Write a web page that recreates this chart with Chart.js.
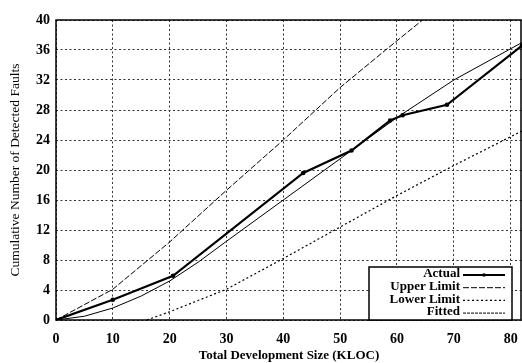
<!DOCTYPE html>
<html>
<head>
<meta charset="utf-8">
<script src="https://cdn.jsdelivr.net/npm/chart.js@4.4.1/dist/chart.umd.min.js"></script>
<style>
    body { margin: 0; background: #fff; overflow: hidden; }
    #wrap { width: 522px; height: 363px; position: relative; }
</style>
</head>
<body>
<div id="wrap"><canvas id="myChart"></canvas></div>
<script>
// data (KLOC, cumulative faults)
var actualX = [0, 10, 20.6, 43.5, 52, 58.8, 61, 68.8, 82];
var actualY = [0, 2.7, 5.9, 19.6, 22.6, 26.6, 27.3, 28.7, 36.6];
var upperX = [0, 10, 20, 30, 40, 50, 58, 64.5];
var upperY = [0, 4.1, 10.4, 17.3, 24, 31, 36, 40];
var lowerX = [16, 20, 30, 40, 50, 60, 70, 82];
var lowerY = [0, 1.1, 4.1, 8.2, 12.4, 16.6, 20.6, 25.2];
var fittedX = [0, 5, 10, 15, 20, 25, 30, 40, 50, 60, 70, 82];
var fittedY = [0, 0.5, 1.6, 3.2, 5.2, 7.7, 10.5, 16, 21.5, 27, 32, 37];
var xTicks = [0, 10, 20, 30, 40, 50, 60, 70, 80];
var yTicks = [0, 4, 8, 12, 16, 20, 24, 28, 32, 36, 40];

function pts(xs, ys) {
    return xs.map(function(x, i) { return { x: x, y: ys[i] }; });
}

var serif = "'Liberation Serif', 'DejaVu Serif', serif";

// frame round the plot area
var framePlugin = {
    id: 'frame',
    afterDatasetsDraw: function(chart) {
        var a = chart.chartArea, c = chart.ctx;
        c.save();
        c.strokeStyle = '#000';
        c.lineWidth = 1.5;
        c.setLineDash([]);
        c.strokeRect(a.left, a.top, Math.min(a.right, chart.width - 1) - a.left, a.bottom - a.top);
        c.restore();
    }
};

// legend box in the lower right, text left of the sample line
var legendBox = {
    id: 'legendBox',
    afterDatasetsDraw: function(chart) {
        var a = chart.chartArea, c = chart.ctx;
        var right = a.right - 10, bottom = a.bottom, w = 143, h = 53;
        var left = right - w, top = bottom - h;
        c.save();
        c.fillStyle = '#fff';
        c.fillRect(left, top, w, h);
        c.strokeStyle = '#000';
        c.lineWidth = 1.5;
        c.strokeRect(left, top, w, h);
        c.font = "bold 13px " + serif;
        c.textAlign = 'right';
        c.textBaseline = 'middle';
        chart.data.datasets.forEach(function(ds, i) {
            var y = top + 7 + i * 12.7;
            c.fillStyle = '#000';
            c.fillText(ds.label, right - 52, y);
            c.strokeStyle = '#000';
            c.lineWidth = ds.borderWidth;
            c.setLineDash(ds.legendDash || ds.borderDash || []);
            c.beginPath();
            c.moveTo(right - 49, y + 1);
            c.lineTo(right - 7, y + 1);
            c.stroke();
            if (ds.pointRadius) {
                c.setLineDash([]);
                c.beginPath();
                c.arc(right - 28, y + 1, 1.8, 0, Math.PI * 2);
                c.fillStyle = '#000';
                c.fill();
            }
        });
        c.restore();
    }
};

var gridOpts = { color: '#333', lineWidth: 1, drawTicks: false };

var myChart = new Chart(document.getElementById('myChart').getContext('2d'), {
    type: 'line',
    data: {
        datasets: [{
            label: 'Actual',
            data: pts(actualX, actualY),
            borderColor: '#000',
            backgroundColor: '#000',
            borderWidth: 2.2,
            pointRadius: 1.2,
            pointStyle: 'circle'
        }, {
            label: 'Upper Limit',
            data: pts(upperX, upperY),
            borderColor: '#000',
            borderWidth: 1,
            borderDash: [6, 2],
            pointRadius: 0
        }, {
            label: 'Lower Limit',
            data: pts(lowerX, lowerY),
            borderColor: '#000',
            borderWidth: 1.2,
            borderDash: [2, 2.5],
            pointRadius: 0
        }, {
            label: 'Fitted',
            data: pts(fittedX, fittedY),
            borderColor: '#000',
            borderWidth: 1,
            legendDash: [3, 1],
            pointRadius: 0
        }]
    },
    options: {
        responsive: true,
        maintainAspectRatio: false,
        animation: false,
        layout: { autoPadding: false, padding: { top: 20, right: 0, left: 0, bottom: 0 } },
        plugins: {
            legend: { display: false },
            tooltip: { enabled: false }
        },
        scales: {
            x: {
                type: 'linear',
                min: 0,
                max: 82,
                grid: gridOpts,
                border: { display: false, dash: [2, 2.5] },
                afterBuildTicks: function(scale) {
                    scale.ticks = xTicks.map(function(v) { return { value: v }; });
                },
                afterFit: function(scale) {
                    scale.height = 43;
                    scale.paddingRight = 0;
                    scale.paddingLeft = 0;
                },
                ticks: {
                    padding: 11,
                    color: '#000',
                    maxRotation: 0,
                    font: { family: serif, size: 14, weight: 'bold' }
                },
                title: {
                    display: true,
                    text: 'Total Development Size (KLOC)',
                    color: '#000',
                    padding: { top: 0, bottom: 0 },
                    font: { family: serif, size: 13, weight: 'bold' }
                }
            },
            y: {
                min: 0,
                max: 40,
                grid: gridOpts,
                border: { display: false, dash: [2, 2.5] },
                afterBuildTicks: function(scale) {
                    scale.ticks = yTicks.map(function(v) { return { value: v }; });
                },
                afterFit: function(scale) { scale.width = 56; },
                ticks: {
                    padding: 6,
                    color: '#000',
                    font: { family: serif, size: 14, weight: 'bold' }
                },
                title: {
                    display: true,
                    text: 'Cumulative Number of Detected Faults',
                    color: '#000',
                    padding: { top: 7, bottom: 0 },
                    font: { family: serif, size: 13.5, weight: 'normal' }
                }
            }
        }
    },
    plugins: [framePlugin, legendBox]
});
</script>
</body>
</html>
